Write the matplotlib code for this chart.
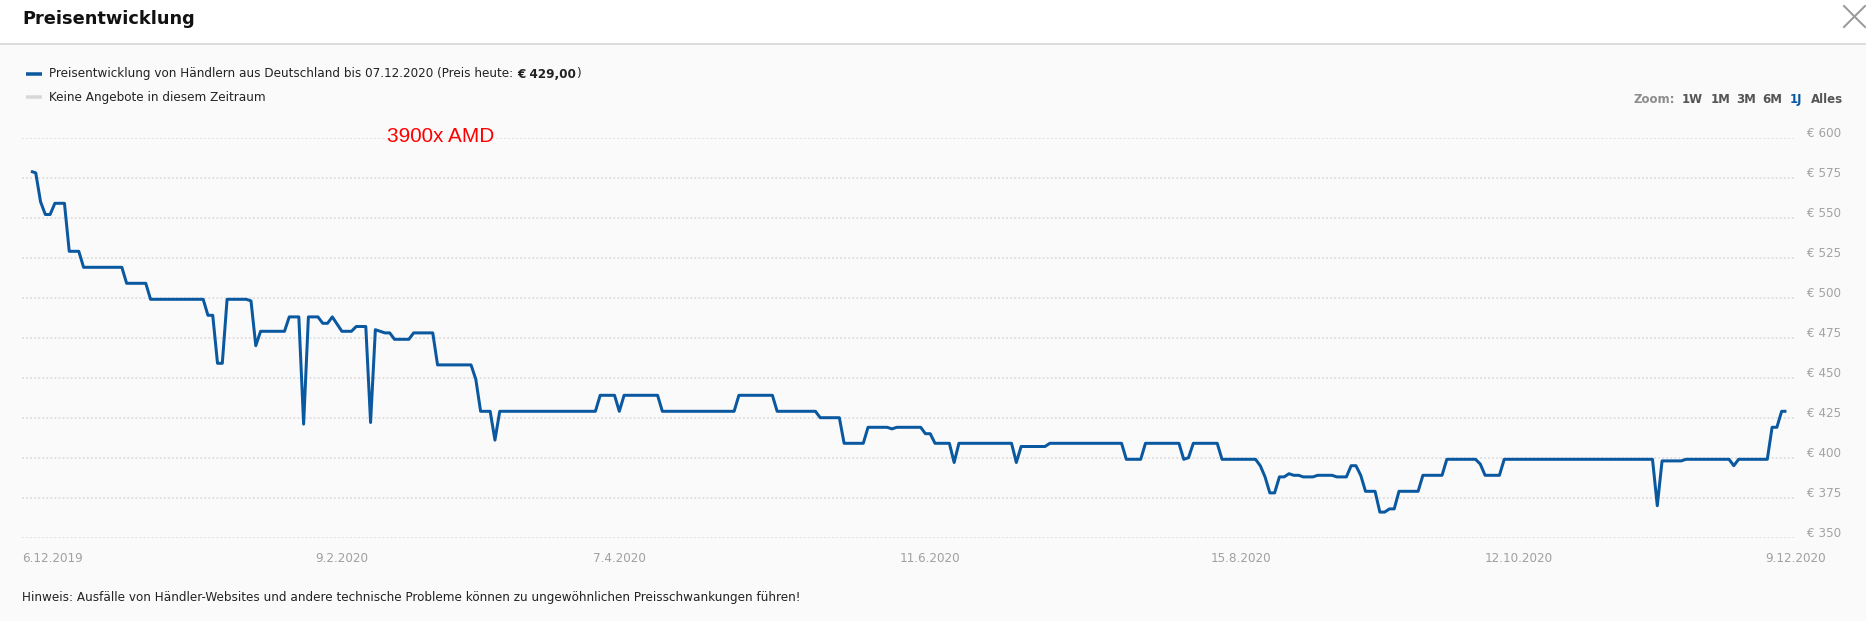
import matplotlib
matplotlib.use("Agg")
import matplotlib.pyplot as plt
import pandas as pd
from matplotlib.lines import Line2D
from matplotlib.patches import Rectangle
from matplotlib.transforms import ScaledTranslation

# ---------------- data ----------------
dates = [
    "2019-12-06", "2019-12-07", "2019-12-08", "2019-12-09", "2019-12-10", "2019-12-11",
    "2019-12-13", "2019-12-14", "2019-12-16", "2019-12-17", "2019-12-25", "2019-12-26",
    "2019-12-30", "2019-12-31", "2020-01-11", "2020-01-12", "2020-01-13", "2020-01-14",
    "2020-01-15", "2020-01-16", "2020-01-20", "2020-01-21", "2020-01-22", "2020-01-23",
    "2020-01-28", "2020-01-29", "2020-01-31", "2020-02-01", "2020-02-02", "2020-02-04",
    "2020-02-05", "2020-02-06", "2020-02-07", "2020-02-09", "2020-02-11", "2020-02-12",
    "2020-02-14", "2020-02-15", "2020-02-16", "2020-02-18", "2020-02-19", "2020-02-20",
    "2020-02-23", "2020-02-24", "2020-02-28", "2020-02-29", "2020-03-07", "2020-03-08",
    "2020-03-09", "2020-03-11", "2020-03-12", "2020-03-13", "2020-04-02", "2020-04-03",
    "2020-04-06", "2020-04-07", "2020-04-08", "2020-04-15", "2020-04-16", "2020-05-01",
    "2020-05-02", "2020-05-09", "2020-05-10", "2020-05-18", "2020-05-19", "2020-05-23",
    "2020-05-24", "2020-05-28", "2020-05-29", "2020-06-02", "2020-06-03", "2020-06-04",
    "2020-06-09", "2020-06-10", "2020-06-11", "2020-06-12", "2020-06-15", "2020-06-16",
    "2020-06-17", "2020-06-28", "2020-06-29", "2020-06-30", "2020-07-05", "2020-07-06",
    "2020-07-21", "2020-07-22", "2020-07-25", "2020-07-26", "2020-08-02", "2020-08-03",
    "2020-08-04", "2020-08-05", "2020-08-10", "2020-08-11", "2020-08-18", "2020-08-19",
    "2020-08-20", "2020-08-21", "2020-08-22", "2020-08-23", "2020-08-24", "2020-08-25",
    "2020-08-26", "2020-08-27", "2020-08-28", "2020-08-30", "2020-08-31", "2020-09-03",
    "2020-09-04", "2020-09-06", "2020-09-07", "2020-09-08", "2020-09-09", "2020-09-10",
    "2020-09-12", "2020-09-13", "2020-09-14", "2020-09-15", "2020-09-16", "2020-09-17",
    "2020-09-21", "2020-09-22", "2020-09-26", "2020-09-27", "2020-10-03", "2020-10-04",
    "2020-10-05", "2020-10-08", "2020-10-09", "2020-11-09", "2020-11-10", "2020-11-11",
    "2020-11-15", "2020-11-16", "2020-11-25", "2020-11-26", "2020-11-27", "2020-12-03",
    "2020-12-04", "2020-12-05", "2020-12-06", "2020-12-07",
]
prices = [
    579, 578, 560, 552, 552, 559,
    559, 529, 529, 519, 519, 509,
    509, 499, 499, 489, 489, 459,
    459, 499, 499, 498, 470, 479,
    479, 488, 488, 421, 488, 488,
    484, 484, 488, 479, 479, 482,
    482, 422, 480, 478, 478, 474,
    474, 478, 478, 458, 458, 449,
    429, 429, 411, 429, 429, 439,
    439, 429, 439, 439, 429, 429,
    439, 439, 429, 429, 425, 425,
    409, 409, 419, 419, 418, 419,
    419, 415, 415, 409, 409, 397,
    409, 409, 397, 407, 407, 409,
    409, 399, 399, 409, 409, 399,
    400, 409, 409, 399, 399, 395,
    388, 378, 378, 388, 388, 390,
    389, 389, 388, 388, 389, 389,
    388, 388, 395, 395, 389, 379,
    379, 366, 366, 368, 368, 379,
    379, 389, 389, 399, 399, 396,
    389, 389, 399, 399, 370, 398,
    398, 399, 399, 395, 399, 399,
    419, 419, 429, 429,
]
x_tick_dates = ["2019-12-06", "2020-02-09", "2020-04-07", "2020-06-11",
                "2020-08-15", "2020-10-12", "2020-12-09"]
x_tick_labels = ["6.12.2019", "9.2.2020", "7.4.2020", "11.6.2020",
                 "15.8.2020", "12.10.2020", "9.12.2020"]
y_ticks = [350, 375, 400, 425, 450, 475, 500, 525, 550, 575, 600]
y_tick_labels = [f"€ {v}" for v in y_ticks]

title = "Preisentwicklung"
legend_main = "Preisentwicklung von Händlern aus Deutschland bis 07.12.2020 (Preis heute: "
legend_price = "€ 429,00"
legend_none = "Keine Angebote in diesem Zeitraum"
zoom_items = ["Zoom:", "1W", "1M", "3M", "6M", "1J", "Alles"]
annotation = "3900x AMD"
footnote = ("Hinweis: Ausfälle von Händler-Websites und andere technische Probleme "
            "können zu ungewöhnlichen Preisschwankungen führen!")

# ---------------- figure ----------------
W, H, DPI = 1866, 621, 100
PT = 72.0 / DPI  # points per pixel
plt.rcParams["font.family"] = ["DejaVu Sans"]

fig = plt.figure(figsize=(W / DPI, H / DPI), dpi=DPI)
fig.patch.set_facecolor("#fafafa")
renderer = fig.canvas.get_renderer()


def fx(x):
    return x / W


def fy(y):
    return 1 - y / H


BLUE = "#0a58a0"
FS = 12 * PT

# header bar
fig.add_artist(Rectangle((0, fy(43)), 1, 43 / H, transform=fig.transFigure,
                         facecolor="white", edgecolor="none", zorder=0))
fig.add_artist(Line2D([0, 1], [fy(43.5), fy(43.5)], transform=fig.transFigure,
                      color="#d4d4d4", lw=1.5 * PT))
fig.text(fx(22), fy(18.5), title, fontsize=17.8 * PT, fontweight="bold",
         color="#111111", ha="left", va="center")
# close icon
for xs, ys in (([1844, 1865], [6, 27]), ([1865, 1844], [6, 27])):
    fig.add_artist(Line2D([fx(v) for v in xs], [fy(v) for v in ys],
                          transform=fig.transFigure, color="#9a9a9a", lw=2 * PT))

# legend
fig.add_artist(Line2D([fx(26), fx(42)], [fy(74), fy(74)], transform=fig.transFigure,
                      color=BLUE, lw=3.5 * PT, solid_capstyle="butt"))
fig.add_artist(Line2D([fx(26), fx(42)], [fy(97), fy(97)], transform=fig.transFigure,
                      color="#d8d8d8", lw=3.5 * PT, solid_capstyle="butt"))

x = 49
for s, kw in ((legend_main, {}), (legend_price, {"fontweight": "bold"}), (")", {})):
    t = fig.text(fx(x), fy(74), s, fontsize=FS, color="#222222",
                 ha="left", va="center", **kw)
    x = t.get_window_extent(renderer).x1
fig.text(fx(49), fy(97), legend_none, fontsize=FS, color="#222222",
         ha="left", va="center")

# zoom buttons
zoom_x = [1634, 1682, 1710.5, 1736.5, 1762.5, 1790, 1810.5]
zoom_colors = ["#8c8c8c", "#555555", "#555555", "#555555", "#555555", "#0a58a0", "#555555"]
for s, xx, c in zip(zoom_items, zoom_x, zoom_colors):
    fig.text(fx(xx), fy(99.5), s, fontsize=11.7 * PT, fontweight="bold", color=c,
             ha="left", va="center")

# ---------------- axes ----------------
left, right, top, bottom = 22, 1796, 137.7, 537.7
ax = fig.add_axes([fx(left), fy(bottom), (right - left) / W, (bottom - top) / H])
ax.set_facecolor("none")
ax.plot(pd.to_datetime(dates), prices, color=BLUE, lw=3 * PT,
        solid_joinstyle="round", solid_capstyle="butt", zorder=3)

ax.set_ylim(350, 600)
ax.set_xlim(pd.Timestamp("2019-12-06") - pd.Timedelta(hours=45),
            pd.Timestamp("2020-12-09"))
for sp in ax.spines.values():
    sp.set_visible(False)

ax.set_yticks(y_ticks)
ax.set_yticklabels(y_tick_labels)
ax.yaxis.tick_right()
ax.yaxis.grid(True, color="#d9d9d9", lw=1.5 * PT, linestyle=(0, (1.3, 1.4)))
ax.tick_params(axis="y", length=0, pad=11 * PT, labelsize=FS, labelcolor="#a3a3a3")
for lab in ax.get_yticklabels():
    lab.set_transform(lab.get_transform() + ScaledTranslation(0, 6 / DPI, fig.dpi_scale_trans))

ax.set_xticks(pd.to_datetime(x_tick_dates))
ax.set_xticklabels(x_tick_labels)
ax.tick_params(axis="x", length=0, pad=14 * PT, labelsize=FS, labelcolor="#a0a0a0")
first = ax.get_xticklabels()[0]
first.set_horizontalalignment("left")
first.set_transform(first.get_transform() + ScaledTranslation(-9 / DPI, 0, fig.dpi_scale_trans))

# annotation & footnote
fig.text(fx(387), fy(136.5), annotation, fontsize=20.8 * PT, color="#ff0000",
         family="Liberation Sans", ha="left", va="center")
fig.text(fx(22.5), fy(597), footnote, fontsize=FS, color="#222222",
         ha="left", va="center")

fig.savefig("out.png", dpi=DPI, facecolor=fig.get_facecolor())
